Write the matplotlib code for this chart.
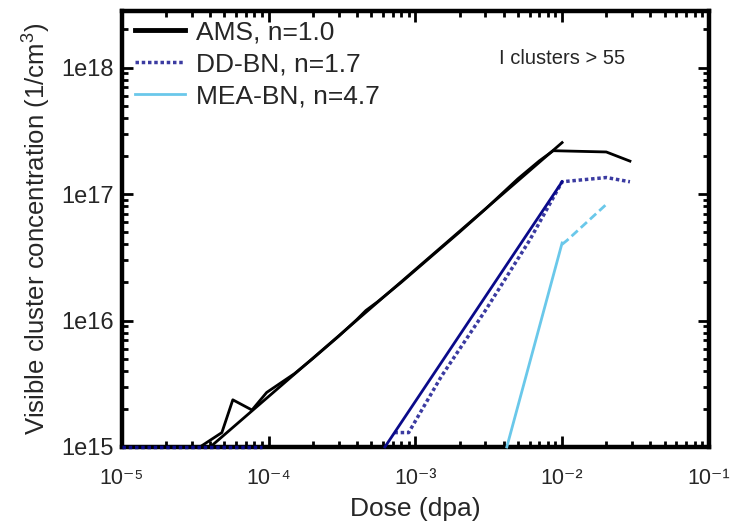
import numpy as np
import matplotlib
matplotlib.use("Agg")
import matplotlib.pyplot as plt
from matplotlib.ticker import LogLocator, FixedLocator, FixedFormatter, NullFormatter

plt.rcParams['font.family'] = ['Liberation Sans', 'DejaVu Sans']
plt.rcParams['mathtext.fontset'] = 'custom'
plt.rcParams['mathtext.rm'] = 'Liberation Sans'
plt.rcParams['mathtext.it'] = 'Liberation Sans:italic'
plt.rcParams['mathtext.bf'] = 'Liberation Sans:bold'

# ---- data ----
ams_x = [3.4e-5, 4.8e-5, 5.7e-5, 7.7e-5, 9.7e-5, 1.5e-4, 2.0e-4, 3.0e-4, 4.0e-4, 4.6e-4, 5.5e-4,
         8.0e-4, 1.0e-3, 2.0e-3, 3.0e-3, 5.0e-3, 7.0e-3, 8.7e-3, 2.0e-2, 2.9e-2]
ams_y = [1.0e15, 1.3e15, 2.36e15, 1.96e15, 2.7e15, 3.8e15, 5.0e15, 7.5e15, 1.02e16, 1.2e16, 1.4e16,
         2.0e16, 2.5e16, 5.0e16, 7.6e16, 1.32e17, 1.83e17, 2.2e17, 2.15e17, 1.82e17]
ams_fit_x = [4.0e-5, 1.0e-2]
ams_fit_y = [1.0e15, 2.55e17]

dd_floor_x = [1.0e-5, 9.0e-5]
dd_floor_y = [1.0e15, 1.0e15]
dd_x = [7.2e-4, 9.0e-4, 1.5e-3, 3.0e-3, 6.0e-3, 1.0e-2, 2.0e-2, 2.9e-2]
dd_y = [1.3e15, 1.3e15, 3.6e15, 1.2e16, 4.3e16, 1.25e17, 1.35e17, 1.25e17]
dd_fit_x = [6.2e-4, 1.0e-2]
dd_fit_y = [1.0e15, 1.25e17]

mea_fit_x = [4.2e-3, 1.0e-2]
mea_fit_y = [1.0e15, 4.1e16]
mea_x = [1.0e-2, 1.08e-2, 2.05e-2]
mea_y = [4.0e16, 4.3e16, 8.5e16]

xticks = [1e-5, 1e-4, 1e-3, 1e-2, 1e-1]
xticklabels = ['10⁻⁵', '10⁻⁴', '10⁻³', '10⁻²', '10⁻¹']
yticks = [1e15, 1e16, 1e17, 1e18]
yticklabels = ['1e15', '1e16', '1e17', '1e18']

navy = '#0a0a8a'
sky = '#6ac8ea'
tc = '#262626'

fig = plt.figure(figsize=(7.3, 5.25), dpi=100)
ax = fig.add_axes([0.167, 0.1486, 0.804, 0.8305])
ax.set_xscale('log')
ax.set_yscale('log')
ax.set_xlim(1e-5, 1e-1)
ax.set_ylim(1e15, 2.8e18)

# AMS
ax.plot(ams_x, ams_y, color='black', lw=2.0, clip_on=False, zorder=3)
ax.plot(ams_fit_x, ams_fit_y, color='black', lw=2.0, clip_on=False, zorder=3, label='AMS, n=1.0')
# DD-BN
ax.plot(dd_floor_x, dd_floor_y, color=navy, lw=2.5, ls=(0, (1, 0.8)), clip_on=False, zorder=4)
ax.plot(dd_x, dd_y, color=navy, lw=2.5, ls=(0, (1, 0.8)), alpha=0.8, clip_on=False, zorder=3,
        label='DD-BN, n=1.7')
ax.plot(dd_fit_x, dd_fit_y, color=navy, lw=2.0, clip_on=False, zorder=3)
# MEA-BN
ax.plot(mea_fit_x, mea_fit_y, color=sky, lw=2.0, clip_on=False, zorder=3, label='MEA-BN, n=4.7')
ax.plot(mea_x, mea_y, color=sky, lw=2.0, ls=(0, (3, 1.5)), clip_on=False, zorder=3)

ax.xaxis.set_major_locator(FixedLocator(xticks))
ax.xaxis.set_major_formatter(FixedFormatter(xticklabels))
ax.xaxis.set_minor_locator(LogLocator(base=10, subs=np.arange(2, 10)))
ax.xaxis.set_minor_formatter(NullFormatter())
ax.yaxis.set_major_locator(FixedLocator(yticks))
ax.yaxis.set_major_formatter(FixedFormatter(yticklabels))
ax.yaxis.set_minor_locator(LogLocator(base=10, subs=np.arange(2, 10)))
ax.yaxis.set_minor_formatter(NullFormatter())

ax.tick_params(which='both', direction='in', top=True, right=True, width=2.0, colors='black',
               labelcolor=tc)
ax.tick_params(which='major', length=8)
ax.tick_params(which='minor', length=4)
ax.tick_params(axis='y', which='major', labelsize=17, pad=6)
ax.tick_params(axis='x', which='major', labelsize=15.5, pad=15)
for s in ax.spines.values():
    s.set_linewidth(3.2)

ax.set_xlabel('Dose (dpa)', fontsize=19, color=tc, labelpad=6)
ax.set_ylabel(r'Visible cluster concentration (1/cm$^3$)', fontsize=18.5, color=tc, labelpad=6)

leg = ax.legend(loc='upper left', frameon=False, fontsize=19, handlelength=1.9,
                handletextpad=0.42, labelspacing=0.3, borderaxespad=0.0, borderpad=0.35,
                bbox_to_anchor=(0.007, 1.0))
for t in leg.get_texts():
    t.set_color(tc)
leg.get_lines()[0].set_linewidth(3.5)

ax.text(0.643, 0.892, 'I clusters > 55', transform=ax.transAxes, fontsize=14.5, color=tc,
        va='center')

fig.savefig('out.png', dpi=100)
